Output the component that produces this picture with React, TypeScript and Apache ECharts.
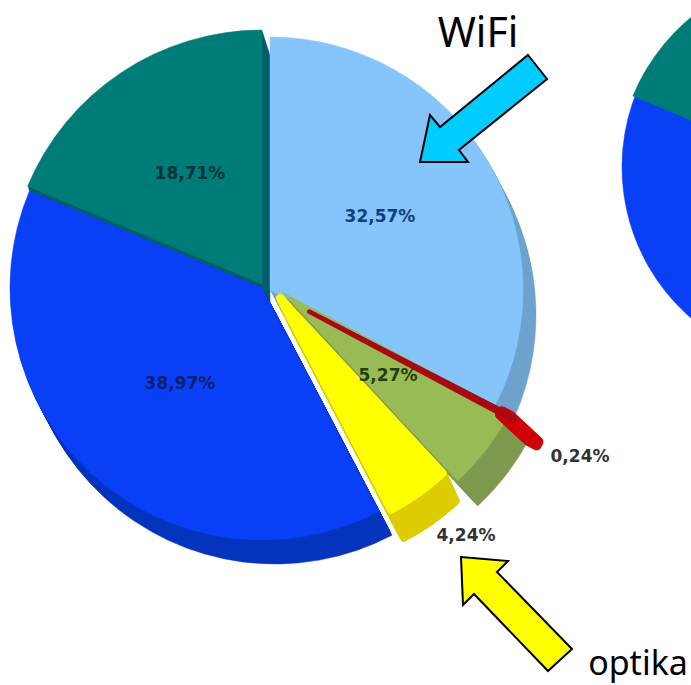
import React, { useEffect, useRef } from "react";
import * as echarts from "echarts";

// Data (clockwise from north)
const sliceLabels = ["32,57%", "0,24%", "5,27%", "4,24%", "38,97%", "18,71%"];
const sliceValues = [32.57, 0.24, 5.27, 4.24, 38.97, 18.71];
const rightPieValues = [38.9, 18.7]; // only these two slices of the second pie are in frame
const wifiText = "WiFi";
const optikaText = "optika";

// Styles, index-aligned with the data
const topColors = ["#85C5FB", "#A80A14", "#99BB55", "#FFFF00", "#0A3FF8", "#007C78"];
const sideColors = ["#6FA3CE", "#D00008", "#7F9A50", "#DDCC00", "#0535BE", "#005F6C"];
const centers = [[270, 290], [272, 292], [282, 292], [280, 298], [262, 288], [262, 284]];
const radii = [[0, 253], [42, 274], [0, 258], [0, 239], [0, 252], [0, 254]];
const sideRadii = [[0, 253], [256, 266], [0, 258], [0, 239], [0, 252], [0, 254]];
const depths = [[13, 25], [30, 28], [20, 25], [13, 28], [13, 24], [8, 25]];
const borders = [0.5, 4, 0.5, 8, 0.5, 0.5];
const sideBorders = [0.5, 10, 0.5, 8, 0.5, 0.5];
const labelAt = [[380, 216], [580, 456], [388, 375], [466, 535], [180, 383], [190, 173]];
const labelColors = ["#123F78", "#333333", "#24400F", "#333333", "#0A1F70", "#06323A"];
const sideOrder = [5, 0, 4, 3, 2];
const topOrder = [5, 0, 4, 3, 2];
const red = 1;
const STEPS = 14;

const wifiArrow = [[528, 55], [547, 79], [459, 150], [468, 162], [420, 162], [430, 115], [440, 127]];
const optikaArrow = [[461, 557], [508, 561], [497, 572], [572, 649], [548, 671], [474, 594], [463, 605]];

function startOf(index: number, values: number[]) {
  let acc = 0;
  for (let i = 0; i < index; i++) acc += values[i];
  return acc;
}

function wedge(value: number, startPct: number, center: number[], radius: number[], color: string, extra: any = {}, border = 0.5) {
  return {
    type: "pie",
    silent: true,
    clockwise: true,
    startAngle: 90 - startPct * 3.6,
    center,
    radius,
    avoidLabelOverlap: false,
    emphasis: { disabled: true },
    labelLine: { show: false },
    label: { show: false },
    ...extra,
    data: [
      { value, name: extra.labelName ?? "", itemStyle: { color, borderColor: color, borderWidth: border }, label: extra.itemLabel ?? { show: false } },
      { value: 100 - value, name: "rest", itemStyle: { color: "none" }, label: { show: false } },
    ],
  };
}

function sideLayers(i: number) {
  const out: any[] = [];
  for (let s = STEPS; s >= 1; s--) {
    const cx = centers[i][0] + (depths[i][0] * s) / STEPS;
    const cy = centers[i][1] + (depths[i][1] * s) / STEPS;
    out.push(wedge(sliceValues[i], startOf(i, sliceValues), [cx, cy], sideRadii[i], sideColors[i], {}, sideBorders[i]));
  }
  return out;
}

function topLayer(i: number) {
  return wedge(sliceValues[i], startOf(i, sliceValues), centers[i], radii[i], topColors[i], {
    labelName: sliceLabels[i],
    itemLabel: {
      show: true,
      position: "inside",
      formatter: sliceLabels[i],
      fontFamily: "DejaVu Sans",
      fontWeight: "bold",
      fontSize: 17,
      color: labelColors[i],
    },
    labelLayout: { x: labelAt[i][0], y: labelAt[i][1], align: "center", verticalAlign: "middle" },
  }, borders[i]);
}

function buildOption() {
  const series: any[] = [];
  const rightBlueCenter = [822, 167];
  const rightTealCenter = [822, 175];
  const rightBlueStart = 100 - rightPieValues[0] - rightPieValues[1];
  series.push(wedge(rightPieValues[0], rightBlueStart, rightBlueCenter, [0, 200], topColors[4]));
  series.push(wedge(rightPieValues[1], rightBlueStart + rightPieValues[0], rightTealCenter, [0, 205], topColors[5]));
  sideOrder.forEach((i) => series.push(...sideLayers(i)));
  topOrder.forEach((i) => series.push(topLayer(i)));
  series.push(...sideLayers(red));
  series.push(topLayer(red));

  const arrow = (points: number[][], fill: string) => ({
    type: "polygon",
    z: 100,
    silent: true,
    shape: { points },
    style: { fill, stroke: "#000000", lineWidth: 2, lineJoin: "miter" },
  });
  const caption = (text: string, x: number, y: number, fontSize: number) => ({
    type: "text",
    z: 100,
    silent: true,
    x,
    y,
    style: { text, fill: "#000000", fontFamily: "Noto Sans", fontSize, textAlign: "center", textVerticalAlign: "middle" },
  });

  return {
    animation: false,
    backgroundColor: "#FFFFFF",
    series,
    graphic: [
      arrow(wifiArrow, "#00CCFF"),
      arrow(optikaArrow, "#FFFF00"),
      caption(wifiText, 478, 31, 41),
      caption(optikaText, 638, 662, 34),
    ],
  };
}

export default function App() {
  const ref = useRef<HTMLDivElement>(null);
  useEffect(() => {
    document.body.style.margin = "0";
    const chart = echarts.init(ref.current!, undefined, { renderer: "svg" });
    chart.setOption(buildOption() as any);
    return () => chart.dispose();
  }, []);
  return <div ref={ref} style={{ width: 691, height: 685, overflow: "hidden" }} />;
}
